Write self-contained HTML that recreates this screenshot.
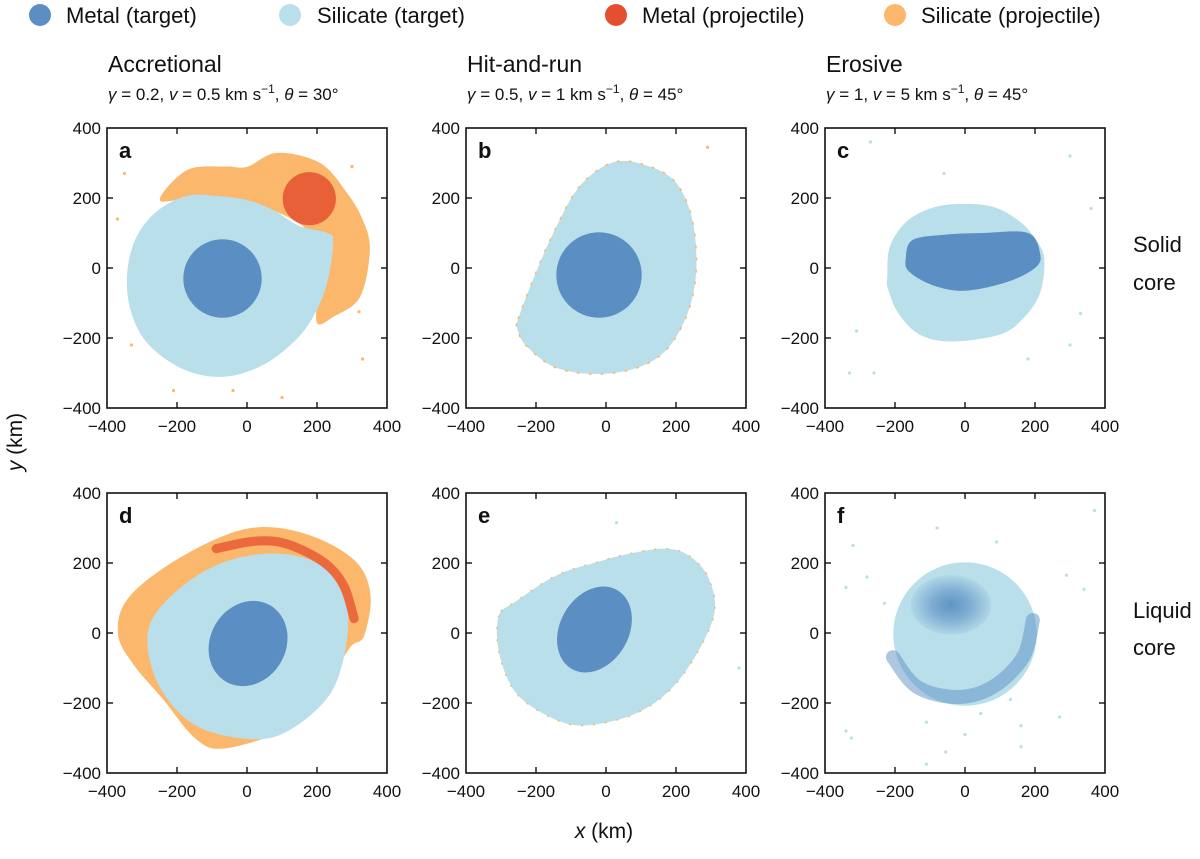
<!DOCTYPE html>
<html><head><meta charset="utf-8"><style>
body{margin:0;background:#fff;width:1200px;height:854px;overflow:hidden;font-family:"Liberation Sans",sans-serif}
svg text{font-family:"Liberation Sans",sans-serif;fill:#111}
</style></head><body>
<svg id="fig" width="1200" height="854" xmlns="http://www.w3.org/2000/svg">
<defs>
<radialGradient id="fclust"><stop offset="0" stop-color="#5b8fc4" stop-opacity="0.95"/><stop offset="0.5" stop-color="#5b8fc4" stop-opacity="0.6"/><stop offset="1" stop-color="#5b8fc4" stop-opacity="0.1"/></radialGradient>
</defs>
</svg>
<script>
// ---- data (km) ----
const tickValues=[-400,-200,0,200,400];
const panelLetters=["a","b","c","d","e","f"];
const panelCols=[0,1,2,0,1,2];
const panelRows=[0,0,0,1,1,1];
const aOrange=[[-249,194],[-171,280],[-60,290],[0,289],[86,329],[209,300],[286,214],[331,137],[351,51],[323,-83],[246,-140],[200,-157],[200,-60],[180,100],[0,190],[-150,200]];
const aSil=[[-343,-26],[-320,80],[-260,160],[-171,206],[-80,205],[0,194],[74,166],[150,120],[230,100],[246,71],[229,-43],[189,-140],[131,-214],[40,-280],[-69,-311],[-180,-290],[-280,-220],[-330,-130]];
const aCore=[-70,-30,112];
const aRed=[178,198,76];
const aStray=[[-370,140],[-350,270],[-330,-220],[-210,-350],[-40,-350],[100,-370],[330,-260],[300,290],[320,-125]];
const bSil=[[-251,-146],[-204,-22],[-145,111],[-74,235],[21,302],[116,293],[199,245],[246,140],[258,-3],[234,-127],[175,-231],[92,-284],[-26,-303],[-145,-284],[-228,-222],[-253,-175]];
const bCore=[-20,-20,122];
const bStray=[[290,345]];
const cSil=[[-222,-22],[-215,60],[-170,130],[-100,170],[-20,183],[80,175],[160,130],[210,70],[227,20],[215,-70],[170,-140],[100,-190],[-40,-210],[-130,-190],[-190,-130],[-220,-60]];
const cCore=[[-169,30],[-150,80],[-60,95],[50,100],[180,100],[215,40],[200,0],[120,-40],[0,-65],[-90,-50],[-160,-10]];
const cStray=[[-270,360],[-60,270],[330,-130],[300,320],[360,170],[-330,-300],[-260,-300],[-310,-180],[300,-220],[180,-260]];
const dOrange=[[-368,-7],[-347,89],[-241,184],[-76,274],[53,303],[194,274],[312,203],[353,108],[335,-7],[300,-35],[270,-80],[200,-200],[100,-280],[-65,-330],[-147,-302],[-241,-188],[-323,-92]];
const dSil=[[-270,41],[-182,136],[-65,203],[76,227],[200,200],[270,120],[288,3],[241,-169],[112,-283],[-6,-302],[-147,-264],[-241,-169],[-282,-54]];
const dRed=[[-88,241],[20,262],[112,255],[218,203],[276,136],[306,41]];
const dCore=[3,-30,108,126,30];
const eSil=[[-306,50],[-306,-54],[-259,-169],[-160,-240],[-59,-264],[94,-226],[212,-130],[306,41],[294,155],[235,222],[165,241],[60,225],[-24,203],[-141,165],[-259,89]];
const eCore=[-33,10,98,130,30];
const eStray=[[30,315],[380,-100]];
const fSil=[0,-3,205];
const fCluster=[-40,80,115,85];
const fArc=[[-206,-69],[-137,-154],[-23,-183],[80,-154],[166,-69],[194,37]];
const fStray=[[-320,250],[-340,130],[-280,160],[-230,85],[-80,300],[90,260],[290,165],[340,125],[130,-190],[270,-240],[-340,-280],[-325,-300],[-110,-255],[45,-230],[0,-290],[160,-265],[160,-325],[-55,-340],[-110,-375],[370,350]];

const C={mt:"#5b8fc4",st:"#b9dfea",mp:"#e4502f",sp:"#fbb86c"};
const svg=document.getElementById('fig');
const NS="http://www.w3.org/2000/svg";
const colX=[107,466,825], rowY=[128,493], S=280;
function mk(tag,attrs,parent){const e=document.createElementNS(NS,tag);for(const k in attrs)e.setAttribute(k,attrs[k]);(parent||svg).appendChild(e);return e;}
function txt(x,y,s,size,extra,parent){const t=mk('text',Object.assign({x:x,y:y,'font-size':size},extra||{}),parent);t.innerHTML=s;return t;}

const leg=[["Metal (target)",C.mt,40,66],["Silicate (target)",C.st,290,317],["Metal (projectile)",C.mp,616,642],["Silicate (projectile)",C.sp,895,921]];
leg.forEach(l=>{const g=mk('g',{});


mk('circle',{cx:l[2],cy:15,r:11,fill:l[1]},g);txt(l[3],23,l[0],22,{},g);});

const titles=[["Accretional","<tspan font-style='italic'>γ</tspan> = 0.2, <tspan font-style='italic'>v</tspan> = 0.5 km s<tspan dy='-7' font-size='12'>−1</tspan><tspan dy='7'>, </tspan><tspan font-style='italic'>θ</tspan> = 30°"],
["Hit-and-run","<tspan font-style='italic'>γ</tspan> = 0.5, <tspan font-style='italic'>v</tspan> = 1 km s<tspan dy='-7' font-size='12'>−1</tspan><tspan dy='7'>, </tspan><tspan font-style='italic'>θ</tspan> = 45°"],
["Erosive","<tspan font-style='italic'>γ</tspan> = 1, <tspan font-style='italic'>v</tspan> = 5 km s<tspan dy='-7' font-size='12'>−1</tspan><tspan dy='7'>, </tspan><tspan font-style='italic'>θ</tspan> = 45°"]];
titles.forEach((t,i)=>{const a=txt(colX[i]+1,72,t[0],23);


const b=txt(colX[i]+1,100,t[1],17);

});
const r1=txt(1133,252,"Solid",22);txt(1133,290,"core",22);
const r2=txt(1133,618,"Liquid",22);txt(1133,655,"core",22);
const yl=txt(0,0,"<tspan font-style='italic'>y</tspan> (km)",21,{transform:"translate(22,442) rotate(-90)",'text-anchor':'middle'});

const xl=txt(604,838,"<tspan font-style='italic'>x</tspan> (km)",21,{'text-anchor':'middle'});


function panel(i){
  const x0=colX[panelCols[i]], y0=rowY[panelRows[i]];
  const g=mk('g',{});
  
  
  const X=v=>x0+(v+400)/800*S, Y=v=>y0+(400-v)/800*S, R=v=>v/800*S;
  const poly=(pts,fill,extra)=>mk('path',Object.assign({d:smooth(pts.map(q=>[X(q[0]),Y(q[1])])),fill:fill},extra||{}),g);
  const circ=(c,fill,op)=>mk('circle',{cx:X(c[0]),cy:Y(c[1]),r:R(c[2]),fill:fill,opacity:op||1},g);
  const ell=(c,fill,op)=>mk('ellipse',{cx:X(c[0]),cy:Y(c[1]),rx:R(c[2]),ry:R(c[3]),fill:fill,opacity:op||1,transform:`rotate(${c[4]||0} ${X(c[0])} ${Y(c[1])})`},g);
  const dots=(arr,fill)=>arr.forEach(q=>{const d=mk('circle',{cx:X(q[0]),cy:Y(q[1]),r:1.6,fill:fill},g);
    
    });
  const band=(pts,col,w,op,dash)=>mk('path',{d:smoothOpen(pts.map(q=>[X(q[0]),Y(q[1])])),fill:'none',stroke:col,'stroke-width':R(w),'stroke-linecap':'round',opacity:op},g);
  if(i===0){poly(aOrange,C.sp);poly(aSil,C.st);circ(aCore,C.mt);circ(aRed,C.mp,0.85);dots(aStray,C.sp);}
  if(i===1){poly(bSil,C.st,{stroke:C.sp,'stroke-width':1.5,'stroke-dasharray':'3 9'});circ(bCore,C.mt);dots(bStray,C.sp);}
  if(i===2){poly(cSil,C.st);poly(cCore,C.mt);dots(cStray,C.st);}
  if(i===3){poly(dOrange,C.sp);poly(dSil,C.st);band(dRed,C.mp,26,0.75);ell(dCore,C.mt);}
  if(i===4){poly(eSil,C.st,{stroke:C.sp,'stroke-width':1.5,'stroke-dasharray':'2 10'});ell(eCore,C.mt);dots(eStray,C.st);}
  if(i===5){circ(fSil,C.st);ell(fCluster,'url(#fclust)');band(fArc,C.mt,40,0.5);dots(fStray,C.st);}
  mk('rect',{x:x0,y:y0,width:S,height:S,fill:'none',stroke:'#111','stroke-width':1.6},g);
  tickValues.forEach(v=>{
    if(v>-400&&v<400){
      mk('line',{x1:X(v),x2:X(v),y1:y0+S,y2:y0+S-6,stroke:'#111','stroke-width':1.4},g);
      mk('line',{x1:X(v),x2:X(v),y1:y0,y2:y0+6,stroke:'#111','stroke-width':1.4},g);
      mk('line',{x1:x0,x2:x0+6,y1:Y(v),y2:Y(v),stroke:'#111','stroke-width':1.4},g);
      mk('line',{x1:x0+S,x2:x0+S-6,y1:Y(v),y2:Y(v),stroke:'#111','stroke-width':1.4},g);
    }
    const lab=(v<0?"−":"")+Math.abs(v);
    const tx=txt(X(v),y0+S+24,lab,17,{'text-anchor':'middle'},g);
    
    
    const ty=txt(x0-6,Y(v)+6,lab,17,{'text-anchor':'end'},g);
    
    
  });
  const L=txt(x0+12,y0+30,panelLetters[i],22,{'font-weight':'bold'},g);
  
  
}
function smooth(p){const n=p.length;let d=`M${p[0][0]},${p[0][1]}`;
  for(let i=0;i<n;i++){const p0=p[(i-1+n)%n],p1=p[i],p2=p[(i+1)%n],p3=p[(i+2)%n];
    d+=`C${p1[0]+(p2[0]-p0[0])/6},${p1[1]+(p2[1]-p0[1])/6} ${p2[0]-(p3[0]-p1[0])/6},${p2[1]-(p3[1]-p1[1])/6} ${p2[0]},${p2[1]}`;}
  return d+'Z';}
function smoothOpen(p){const n=p.length;let d=`M${p[0][0]},${p[0][1]}`;
  for(let i=0;i<n-1;i++){const p0=p[Math.max(i-1,0)],p1=p[i],p2=p[i+1],p3=p[Math.min(i+2,n-1)];
    d+=`C${p1[0]+(p2[0]-p0[0])/6},${p1[1]+(p2[1]-p0[1])/6} ${p2[0]-(p3[0]-p1[0])/6},${p2[1]-(p3[1]-p1[1])/6} ${p2[0]},${p2[1]}`;}
  return d;}
for(let i=0;i<6;i++)panel(i);
</script>
</body></html>
